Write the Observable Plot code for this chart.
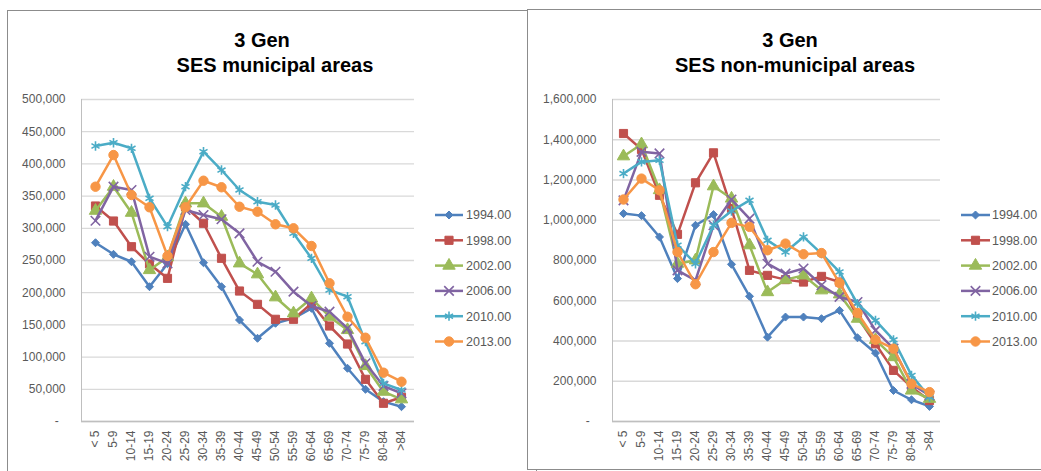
<!DOCTYPE html>
<html><head><meta charset="utf-8">
<script src="https://cdn.jsdelivr.net/npm/d3@7"></script>
<script src="https://cdn.jsdelivr.net/npm/@observablehq/plot@0.6"></script>
<style>
body{margin:0;background:#fff;}
#wrap{position:relative;width:1041px;height:471px;overflow:hidden;font-family:"Liberation Sans",Arial,sans-serif;background:#fff;}
.frame{position:absolute;border:1px solid #8c8c8c;box-sizing:border-box;}
#left,#right{position:absolute;top:0;}
#left{left:0px;}
#right{left:527px;}
#overlay{position:absolute;left:0;top:0;}
</style></head><body>
<div id="wrap">
<div class="frame" style="left:7px;top:10px;width:530px;height:480px"></div>
<div class="frame" style="left:527px;top:9px;width:540px;height:461px;background:#fff"></div>
<div id="left"></div><div id="right"></div>
<svg id="overlay" width="1041" height="471"></svg>
</div>
<script>
// Categories
const ages = ["< 5","5-9","10-14","15-19","20-24","25-29","30-34","35-39","40-44","45-49","50-54","55-59","60-64","65-69","70-74","75-79","80-84",">84"];
const years = ["1994.00","1998.00","2002.00","2006.00","2010.00","2013.00"];

// Tick values
const munTicks = [0,50000,100000,150000,200000,250000,300000,350000,400000,450000,500000];
const nonTicks = [0,200000,400000,600000,800000,1000000,1200000,1400000,1600000];

// SES municipal areas
const mun1994 = [277600,259600,248100,209300,245000,306200,246600,209300,157600,129200,152500,160200,175800,121400,82600,50000,30800,23000];
const mun1998 = [334600,311300,271400,244600,222300,333500,307800,253400,202600,181900,158700,158700,183500,148300,120300,65500,28300,37600];
const mun2002 = [327300,364600,324200,235200,255000,338800,338800,318000,245600,228600,192900,168000,191300,162700,142100,86200,46300,34500];
const mun2006 = [311800,364600,359500,255900,245600,328400,320700,314000,292200,248100,232600,201600,179300,170500,144700,90400,55100,43800];
const mun2010 = [427800,432900,424200,346600,302500,364600,418900,390500,359500,341300,336200,292200,253400,204200,193800,123900,59300,48900];
const mun2013 = [364600,413800,351700,332600,257000,332600,373900,363700,333500,325800,306200,300000,272500,214600,162700,130100,75800,61800];

// SES non-municipal areas
const non1994 = [1033000,1023000,917000,710000,975000,1028000,781000,622000,419000,519000,519000,511000,552000,416000,340000,154000,108000,75000];
const non1998 = [1431000,1352000,1124000,930000,1186000,1335000,1058000,751000,726000,705000,693000,721000,693000,519000,386000,254000,171000,104000];
const non2002 = [1318000,1378000,1150000,784000,801000,1169000,1108000,876000,643000,705000,726000,652000,632000,511000,406000,320000,154000,113000];
const non2006 = [1099000,1340000,1332000,751000,701000,975000,1103000,1008000,784000,735000,760000,677000,619000,594000,453000,362000,187000,129000];
const non2010 = [1232000,1290000,1298000,876000,784000,975000,1046000,1099000,900000,842000,917000,834000,743000,585000,502000,406000,229000,121000];
const non2013 = [1103000,1207000,1149000,842000,682000,842000,987000,967000,851000,884000,831000,837000,688000,539000,406000,362000,187000,146000];

// Styles
const colors = ["#4F81BD","#C0504D","#9BBB59","#8064A2","#4BACC6","#F79646"];
const symbols = [
  {name:"diamond2", r:3.6, filled:true, d3:d3.symbolDiamond2},
  {name:"square", r:4.6, filled:true, d3:d3.symbolSquare},
  {name:"triangle", r:4.6, filled:true, d3:d3.symbolTriangle},
  {name:"times", r:4.4, filled:false, d3:d3.symbolTimes},
  {name:"asterisk", r:4.4, filled:false, d3:d3.symbolAsterisk},
  {name:"circle", r:4.7, filled:true, d3:d3.symbolCircle}
];

const fmt = d => d === 0 ? "-\u00a0\u00a0" : d3.format(",")(d);

function makeChart(series, ticks, width, ml, mr) {
  const rows = [];
  years.forEach((yr, i) => ages.forEach((a, j) => rows.push({age: a, year: yr, value: series[i][j]})));
  const marks = [
    Plot.gridY(ticks, {stroke: "#d9d9d9", strokeOpacity: 1, strokeWidth: 1.3}),
    Plot.frame({anchor: "left", stroke: "#bfbfbf", strokeOpacity: 1}),
    Plot.ruleY([0], {stroke: "#bfbfbf", strokeWidth: 1.3}),
    Plot.axisY(ticks, {tickSize: 0, tickPadding: 16, tickFormat: fmt, label: null, fontSize: 12}),
    Plot.axisX({tickRotate: -90, tickSize: 0, tickPadding: 9, label: null, fontSize: 12})
  ];
  years.forEach((yr, i) => {
    const d = rows.filter(r => r.year === yr);
    const s = symbols[i];
    marks.push(Plot.line(d, {x: "age", y: "value", stroke: colors[i], strokeWidth: 2.5}));
    marks.push(Plot.dot(d, {x: "age", y: "value", symbol: s.name, r: s.r,
      fill: s.filled ? colors[i] : "none", stroke: colors[i], strokeWidth: s.filled ? 1 : 1.6}));
  });
  return Plot.plot({
    width, height: 471,
    marginLeft: ml, marginRight: mr, marginTop: 99, marginBottom: 50,
    x: {type: "point", domain: ages, padding: 0.5, label: null},
    y: {domain: [0, ticks[ticks.length - 1]], label: null},
    style: {fontFamily: "'Liberation Sans', Arial, sans-serif", fontSize: "12px", color: "#595959", background: "transparent", overflow: "visible"},
    marks
  });
}

document.getElementById("left").append(
  makeChart([mun1994, mun1998, mun2002, mun2006, mun2010, mun2013], munTicks, 527, 81, 113));
document.getElementById("right").append(
  makeChart([non1994, non1998, non2002, non2006, non2010, non2013], nonTicks, 514, 85, 101));

// Titles and legends
const ov = d3.select("#overlay");
const titles = [
  {t: "3 Gen", x: 262, y: 47}, {t: "SES municipal areas", x: 275, y: 72},
  {t: "3 Gen", x: 790, y: 47}, {t: "SES non-municipal areas", x: 795, y: 72}
];
titles.forEach(d => ov.append("text").attr("x", d.x).attr("y", d.y).attr("text-anchor", "middle")
  .attr("font-family", "'Liberation Sans', Arial, sans-serif").attr("font-weight", "bold")
  .attr("font-size", 20).attr("fill", "#000").text(d.t));

[{x0: 435, x1: 463, tx: 466}, {x0: 961, x1: 990, tx: 992}].forEach(L => {
  years.forEach((yr, i) => {
    const y = 215 + i * 25.3;
    const s = symbols[i];
    ov.append("line").attr("x1", L.x0).attr("x2", L.x1).attr("y1", y).attr("y2", y)
      .attr("stroke", colors[i]).attr("stroke-width", 2.5);
    ov.append("path").attr("transform", `translate(${(L.x0 + L.x1) / 2},${y})`)
      .attr("d", d3.symbol(s.d3, Math.PI * s.r * s.r)())
      .attr("fill", s.filled ? colors[i] : "none").attr("stroke", colors[i]).attr("stroke-width", s.filled ? 1 : 1.6);
    ov.append("text").attr("x", L.tx).attr("y", y).attr("dy", "0.35em")
      .attr("font-family", "'Liberation Sans', Arial, sans-serif").attr("font-size", 12.5)
      .attr("fill", "#595959").text(yr);
  });
});
</script>
</body></html>
